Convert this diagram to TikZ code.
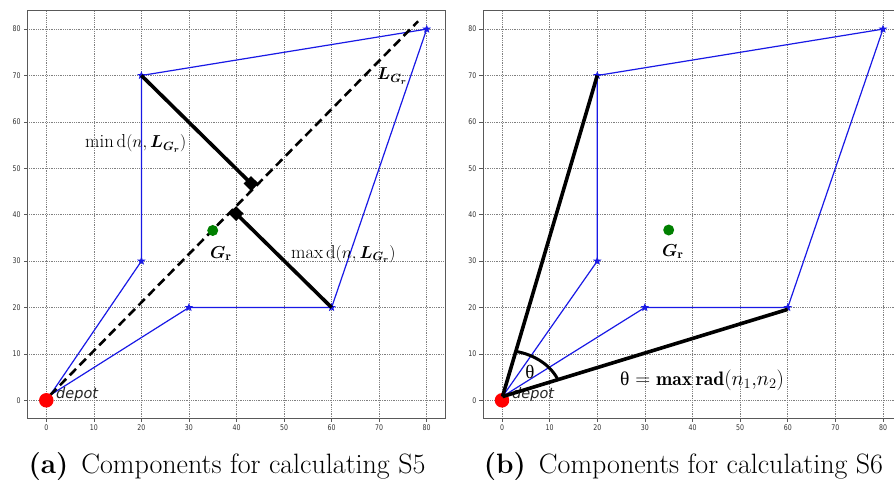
\documentclass[tikz,border=0pt]{standalone}
\usepackage{bm}
\usepackage{fontspec}
\newfontfamily\tickfont{DejaVu Sans}
\newfontfamily\grkfont{Liberation Serif}
\usetikzlibrary{shapes.geometric,calc}
\definecolor{routeblue}{RGB}{25,25,230}
\definecolor{centgreen}{RGB}{0,128,0}
\definecolor{depotred}{RGB}{255,0,0}
\tikzset{
  gridline/.style={black!50, line width=0.55pt, dash pattern=on 0.9pt off 0.9pt},
  frameline/.style={black!65, line width=0.8pt},
  tickline/.style={black!65, line width=0.6pt},
  ticklabel/.style={font=\tickfont\fontsize{7.8}{8}\selectfont, text=black!80, inner sep=0pt},
  route/.style={routeblue, line width=1.2pt},
  customer/.style={star, star points=5, star point ratio=2.4, fill=routeblue, draw=none, minimum size=9pt, inner sep=0pt},
  depotdot/.style={circle, fill=depotred, minimum size=14.5pt, inner sep=0pt},
  centdot/.style={circle, fill=centgreen, minimum size=11pt, inner sep=0pt},
  depotlabel/.style={font=\tickfont\itshape\fontsize{14.5}{16}\selectfont, text=black!85, inner sep=0pt, anchor=base west},
  blackbar/.style={black, line width=3.6pt},
  linelgr/.style={black, line width=2.6pt, dash pattern=on 9pt off 5pt},
  anglearc/.style={black, line width=3pt},
  rightmark/.style={fill=black},
  mathlabel/.style={font=\fontsize{18.7}{20}\selectfont, inner sep=0pt, anchor=base west},
  caption/.style={font=\fontsize{28}{32}\selectfont, inner sep=0pt, anchor=base},
}
\newcommand\plotaxes{%
  \foreach \v in {0,10,...,80} {%
    \draw[gridline] (\v,-4) -- (\v,84);
    \draw[gridline] (-4,\v) -- (84,\v);
    \draw[tickline] (\v,-4) -- ++(0,-3.5pt);
    \draw[tickline] (-4,\v) -- ++(-3.5pt,0);
    \node[ticklabel, anchor=north] at ([yshift=-5.3pt]\v,-4) {\scalebox{0.8}[1]{\v}};
    \node[ticklabel, anchor=east] at ([xshift=-6.5pt]-4,\v) {\scalebox{0.8}[1]{\v}};
  }
  \draw[frameline] (-4,-4) rectangle (84,84);
}
\begin{document}
\begin{tikzpicture}[x=1pt, y=-1pt]
\useasboundingbox (0,0) rectangle (894,484);
\clip (0,0) rectangle (894,484);
\fill[white] (0,0) rectangle (894,484);
% ---------- panel (a)
\begin{scope}[shift={(46.3,400.3)}, x=4.755pt, y=4.64pt]
  \plotaxes
  \coordinate (a0) at (0.8,1.1);
  \coordinate (a1) at (20,30);
  \coordinate (a2) at (20,70);
  \coordinate (a3) at (80,80);
  \coordinate (a4) at (60,20);
  \coordinate (a5) at (30,20);
  \draw[route] (a0) -- (a1) -- (a2) -- (a3) -- (a4) -- (a5) -- cycle;
  \node[customer] (as1) at (a1) {};
  \node[customer] (as2) at (a2) {};
  \node[customer] (as3) at (a3) {};
  \node[customer] (as4) at (a4) {};
  \node[customer] (as5) at (a5) {};
  \coordinate (aL1) at (78.2,81.7);
  \draw[linelgr] (a0) -- (aL1);
  \node[centdot] (ag) at (35,36.6) {};
  \node[depotdot] (ad) at (0,0) {};
  \node[depotlabel] (adl) at (2.05,0.3) {depot};
  \coordinate (aF1) at ($(a0)!(a2)!(aL1)$);
  \coordinate (aF2) at ($(a0)!(a4)!(aL1)$);
  \draw[blackbar] (a2) -- (aF1);
  \draw[blackbar] (a4) -- (aF2);
  % right-angle marks (square on the node side of the line)
  \fill[rightmark] (aF1) ++(-3.68pt,-3.75pt) -- ++(7.35pt,7.49pt) -- ++(-7.49pt,7.35pt) -- ++(-7.35pt,-7.49pt) -- cycle;
  \fill[rightmark] (aF2) ++(-3.68pt,-3.75pt) -- ++(7.35pt,7.49pt) -- ++(7.49pt,-7.35pt) -- ++(-7.35pt,-7.49pt) -- cycle;
\end{scope}
% ---------- panel (b)
\begin{scope}[shift={(502,400.3)}, x=4.7625pt, y=4.64pt]
  \plotaxes
  \coordinate (b0) at (0.1,0.8);
  \coordinate (b1) at (20,30);
  \coordinate (b2) at (20,70);
  \coordinate (b3) at (80,80);
  \coordinate (b4) at (60,20);
  \coordinate (b5) at (30,20);
  \draw[route] (b0) -- (b1) -- (b2) -- (b3) -- (b4) -- (b5) -- cycle;
  \node[customer] (bs1) at (b1) {};
  \node[customer] (bs2) at (b2) {};
  \node[customer] (bs3) at (b3) {};
  \node[customer] (bs4) at (b4) {};
  \node[customer] (bs5) at (b5) {};
  \node[centdot] (bg) at (35,36.7) {};
  \node[depotdot] (bd) at (0,0) {};
  \node[depotlabel] (bdl) at (2.1,0.3) {depot};
  \coordinate (bE) at (60,19.6);
  \draw[blackbar] (b0) -- (b2);
  \draw[blackbar] (b0) -- (bE);
  \draw[anglearc] ($(b0)+(77.1:12.5 and 10)$) arc[start angle=77.1, end angle=20, x radius=12.5, y radius=10];
\end{scope}
% ---------- labels
\node[mathlabel] (lmin) at (85,148) {$\min \mathrm{d}(n, \bm{L}_{\bm{G}_{\bm{r}}})$};
\node[mathlabel] (lmax) at (291,258) {$\max \mathrm{d}(n, \bm{L}_{\bm{G}_{\bm{r}}})$};
\node[mathlabel, font=\fontsize{18.5}{20}\selectfont] (llg) at (377,80) {$\bm{L}_{\bm{G}_{\bm{r}}}$};
\node[mathlabel, font=\fontsize{18}{20}\selectfont] (lga) at (210,258) {$\bm{G}_{\mathbf{r}}$};
\node[mathlabel, font=\fontsize{18}{20}\selectfont] (lgb) at (662,256) {$\bm{G}_{\mathbf{r}}$};
\node[font=\grkfont\fontsize{19}{20}\selectfont, inner sep=0pt] (lth) at (530,372) {θ};
\node[mathlabel, font=\fontsize{19.5}{22}\selectfont] (lrad) at (620,385) {{\grkfont θ} $= \mathbf{max}\,\mathbf{rad}(n_1{,}n_2)$};
% ---------- captions
\node[caption] (capa) at (227,473) {\textbf{(a)}\hspace{13pt}Components for calculating S5};
\node[caption] (capb) at (683.5,473) {\textbf{(b)}\hspace{13pt}Components for calculating S6};
\end{tikzpicture}
\end{document}
